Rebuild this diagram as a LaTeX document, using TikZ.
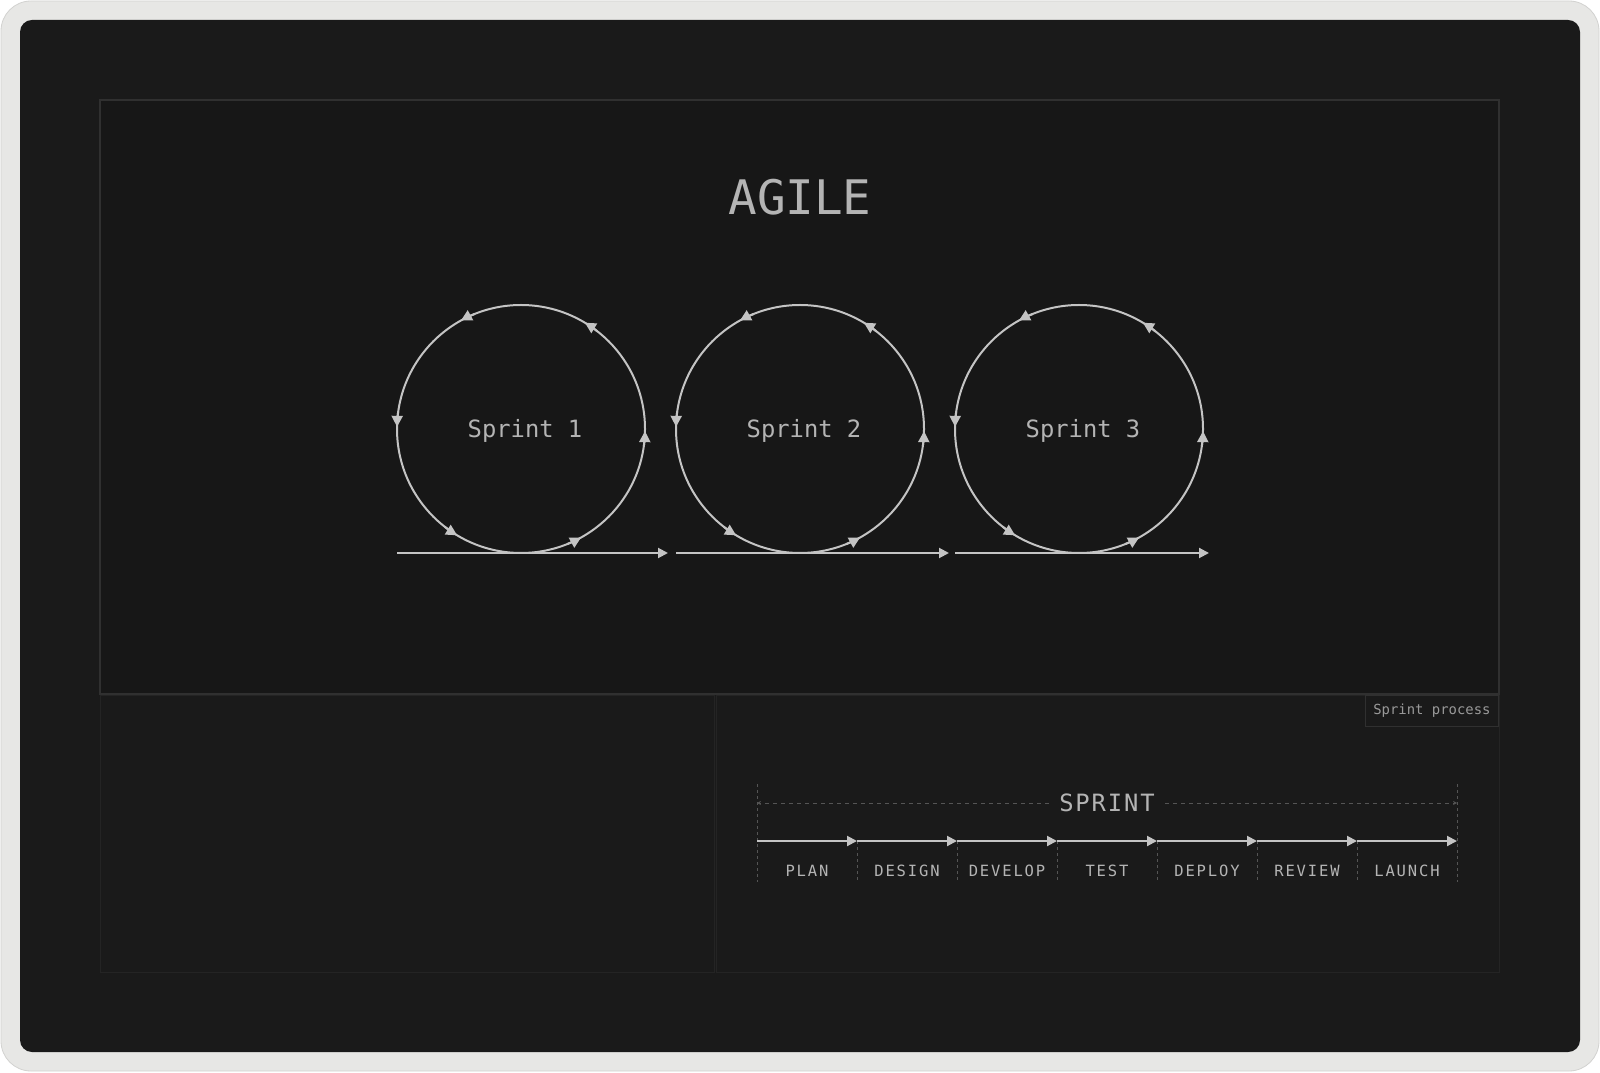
\documentclass[tikz,border=0pt]{standalone}
\usepackage{fontspec}
\newfontfamily\monofont{DejaVu Sans Mono}
\usetikzlibrary{arrows.meta}
\definecolor{frame}{HTML}{E7E7E5}
\definecolor{frameline}{HTML}{D2D2D0}
\definecolor{panel}{HTML}{1A1A1A}
\definecolor{inner}{HTML}{171717}
\definecolor{innerline}{HTML}{303030}
\definecolor{boxline}{HTML}{242424}
\definecolor{linegray}{HTML}{C4C4C4}
\definecolor{textgray}{HTML}{B4B4B4}
\definecolor{dimgray}{HTML}{555555}
\tikzset{
  title/.style={text=textgray,font=\monofont\fontsize{23.8}{28}\selectfont},
  sprint/.style={circle,draw=linegray,line width=1pt,minimum size=124pt,inner sep=0pt,outer sep=0pt,
    text=textgray,font=\monofont\fontsize{11.9}{14}\selectfont},
  cyctip/.style={draw=linegray,line width=1pt,-{Triangle[length=5.5pt,width=5.5pt]}},
  flow/.style={draw=linegray,line width=1pt,-{Triangle[length=5pt,width=5pt]}},
  guide/.style={draw=dimgray,line width=0.5pt,dash pattern=on 1.5pt off 1.5pt},
  span/.style={draw=dimgray,line width=0.5pt,dash pattern=on 2pt off 2pt,-{Stealth[length=2pt,width=2pt]}},
  phase/.style={inner xsep=5pt,text=textgray,font=\monofont\fontsize{11.9}{14}\selectfont\addfontfeatures{LetterSpace=8}},
  steplabel/.style={text=textgray,font=\monofont\fontsize{7.75}{9}\selectfont\addfontfeatures{LetterSpace=12}},
  caption/.style={draw=innerline,line width=0.5pt,fill=panel,inner xsep=4pt,minimum height=15.5pt,
    text=gray!80,font=\monofont\fontsize{6.95}{8}\selectfont}
}
\begin{document}
\begin{tikzpicture}[x=0.5pt,y=0.5pt]
  \useasboundingbox (0,0) rectangle (1600,1072);
  % frame and panels
  \filldraw[fill=frame,draw=frameline,rounded corners=15pt] (1,1) rectangle (1599,1071);
  \fill[panel,rounded corners=6pt] (20,20) rectangle (1580,1052);
  \filldraw[fill=inner,draw=innerline,line width=0.6pt] (100,378) rectangle (1499,972);
  \filldraw[fill=panel,draw=boxline] (100,100) rectangle (714,377);
  \filldraw[fill=panel,draw=boxline] (716,100) rectangle (1499,377);

  % agile sprints
  \node[title] (agile) at (800,875) {AGILE};
  \foreach \n/\cx/\ex in {1/521/668,2/800/949,3/1079/1209} {
    \node[sprint] (S\n) at (\cx,643) {\raisebox{-4.3pt}[0pt][0pt]{\hspace*{4pt}Sprint \n}};
    \coordinate (e\n) at (\ex,519);
    \draw[flow] (S\n.west |- S\n.south) -- (e\n);
    \foreach \a in {-1,59,119,179,239,299}
      \draw[cyctip] (S\n.center) ++(\a-7:62pt) arc[start angle=\a-7,end angle=\a,radius=62pt];
  }

  % sprint process
  \node[caption,anchor=north east] (cap) at (1499,377) {Sprint process};
  \foreach \i in {0,...,7} {
    \coordinate (d\i) at (757+100*\i,231);
    \coordinate (b\i) at (757+100*\i,190);
  }
  \coordinate (t0) at (757,288);
  \coordinate (t7) at (1457,288);
  \coordinate (s0) at (757,269);
  \coordinate (s7) at (1457,269);
  \draw[guide] (t0) -- (b0);
  \draw[guide] (t7) -- (b7);
  \foreach \i in {1,...,6}
    \draw[guide] (d\i) -- (b\i);
  \foreach \i [evaluate=\i as \j using int(\i+1)] in {0,...,6}
    \draw[flow] (d\i) -- (d\j);
  \node[phase] (sprint) at (1107,269) {SPRINT};
  \draw[span] (sprint) -- (s0);
  \draw[span] (sprint) -- (s7);
  \foreach \s [count=\i from 0] in {PLAN,DESIGN,DEVELOP,TEST,DEPLOY,REVIEW,LAUNCH}
    \node[steplabel] (l\i) at (807+100*\i,201) {\s};
\end{tikzpicture}
\end{document}
